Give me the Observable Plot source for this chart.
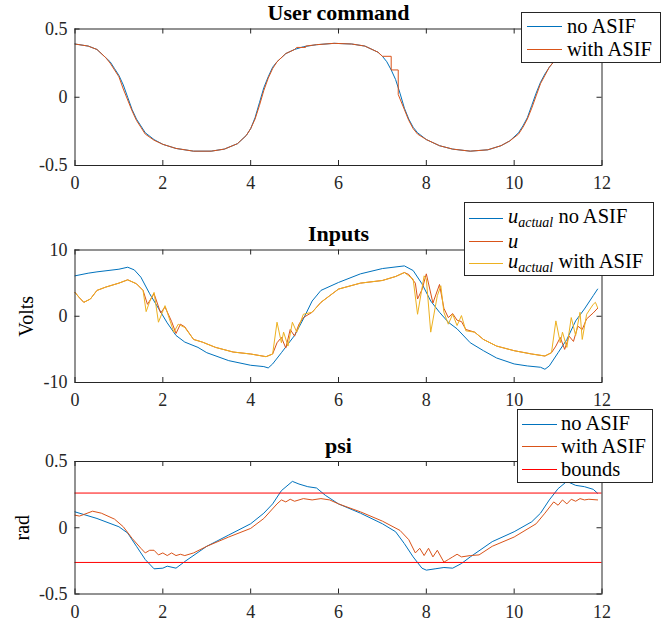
<!DOCTYPE html>
<html><head><meta charset="utf-8">
<script src="https://cdn.jsdelivr.net/npm/d3@7"></script>
<script src="https://cdn.jsdelivr.net/npm/@observablehq/plot@0.6"></script>
<style>
body{margin:0;background:#fff;}
#wrap{position:relative;width:667px;height:624px;background:#fff;overflow:hidden;font-family:"Liberation Serif","DejaVu Serif",serif;}
.legend{position:absolute;background:#fff;border:1px solid #262626;box-sizing:border-box;font-size:20.5px;color:#000;font-family:"Liberation Serif","DejaVu Serif",serif;}
.row{position:absolute;left:0;height:24px;display:flex;align-items:center;white-space:nowrap;}
.sw{display:block;}
sub{font-size:14px;vertical-align:-4px;}
</style>
</head><body>
<div id="wrap"></div>
<script>
// ---------- shared axis ticks ----------
const xTicks = [0, 2, 4, 6, 8, 10, 12];
const xTickLabels = ["0", "2", "4", "6", "8", "10", "12"];
const yTicksHalf = [-0.5, 0, 0.5];
const yTickLabelsHalf = ["-0.5", "0", "0.5"];
const yTicksVolts = [-10, 0, 10];
const yTickLabelsVolts = ["-10", "0", "10"];

// ---------- User command ----------
const cmdNoT = [0,0.3,0.5,0.7,0.8,0.9,1.0,1.1,1.2,1.3,1.4,1.5,1.6,1.8,2.0,2.3,2.7,3.1,3.4,3.7,3.9,4.0,4.1,4.2,4.3,4.4,4.5,4.6,4.8,5.0,5.2,5.5,5.9,6.3,6.6,6.9,7.0,7.1,7.2,7.3,7.4,7.5,7.6,7.7,7.8,8.0,8.3,8.6,9.0,9.4,9.7,9.9,10.1,10.2,10.3,10.4,10.5,10.6,10.7,10.8,10.9,11.0,11.2,11.5,11.9];
const cmdNoV = [0.39,0.375,0.35,0.29,0.26,0.21,0.16,0.09,0.0,-0.09,-0.16,-0.21,-0.26,-0.31,-0.345,-0.375,-0.395,-0.395,-0.38,-0.34,-0.28,-0.23,-0.15,-0.04,0.07,0.15,0.22,0.26,0.32,0.35,0.37,0.385,0.395,0.39,0.375,0.33,0.3,0.26,0.2,0.13,0.03,-0.08,-0.16,-0.22,-0.26,-0.31,-0.355,-0.38,-0.395,-0.385,-0.355,-0.32,-0.26,-0.21,-0.15,-0.06,0.03,0.11,0.17,0.22,0.26,0.29,0.33,0.37,0.39];
const cmdAsifT = [0,0.3,0.5,0.7,0.8,0.9,1.0,1.1,1.2,1.3,1.4,1.5,1.6,1.8,2.0,2.3,2.7,3.1,3.4,3.7,3.9,4.0,4.1,4.2,4.3,4.4,4.5,4.6,4.8,5.0,5.05,5.25,5.25,5.5,5.9,6.3,6.6,6.9,7.0,7.2,7.2,7.36,7.36,7.5,7.6,7.7,7.8,8.0,8.3,8.6,9.0,9.4,9.7,9.9,10.1,10.2,10.3,10.4,10.5,10.6,10.7,10.8,10.9,11.0,11.2,11.5,11.9];
const cmdAsifV = [0.39,0.375,0.35,0.29,0.25,0.2,0.15,0.06,-0.02,-0.1,-0.17,-0.22,-0.27,-0.315,-0.345,-0.375,-0.395,-0.395,-0.38,-0.34,-0.28,-0.23,-0.16,-0.06,0.05,0.14,0.21,0.26,0.32,0.35,0.365,0.365,0.375,0.385,0.395,0.39,0.375,0.33,0.3,0.3,0.2,0.2,0.02,-0.09,-0.17,-0.23,-0.27,-0.31,-0.355,-0.38,-0.395,-0.385,-0.355,-0.32,-0.27,-0.22,-0.16,-0.08,0.01,0.1,0.16,0.22,0.26,0.29,0.33,0.37,0.39];

// ---------- Inputs ----------
const uNoT = [0,0.3,0.5,1.0,1.2,1.35,1.5,1.7,1.9,2.1,2.3,2.5,2.8,3.0,3.5,4.0,4.3,4.4,4.5,4.7,5.0,5.2,5.4,5.6,6.0,6.5,7.0,7.5,7.7,7.9,8.1,8.3,8.5,8.7,9.0,9.3,9.6,10.0,10.3,10.6,10.7,10.8,11.0,11.2,11.4,11.6,11.8,11.9];
const uNoV = [6.1,6.5,6.7,7.1,7.4,7.0,5.9,3.4,1.2,-1.0,-2.9,-3.9,-4.7,-5.5,-6.7,-7.4,-7.6,-7.8,-7.2,-5.5,-2.9,-0.4,2.3,3.9,5.1,6.4,7.2,7.6,6.9,4.9,2.3,0.6,-0.9,-1.9,-4.0,-5.2,-6.3,-7.2,-7.5,-7.7,-8.0,-7.5,-5.5,-3.5,-0.7,1.1,3.1,4.1];
const uT = [0,0.1,0.2,0.35,0.5,0.7,1.0,1.2,1.4,1.55,1.65,1.8,1.95,2.05,2.2,2.3,2.4,2.5,2.7,2.9,3.2,3.6,4.0,4.35,4.5,4.6,4.7,4.8,4.9,5.0,5.1,5.2,5.4,5.6,5.8,6.0,6.5,7.0,7.3,7.5,7.6,7.75,7.8,7.9,8.0,8.15,8.3,8.4,8.5,8.6,8.7,8.8,8.9,9.1,9.3,9.6,10.0,10.4,10.7,10.85,10.95,11.05,11.15,11.25,11.35,11.45,11.55,11.65,11.8,11.9];
const uV = [3.6,2.8,2.1,2.6,3.9,4.4,5.0,5.5,4.9,3.9,1.8,3.4,0.5,1.4,-0.8,-2.6,-1.2,-1.6,-3.5,-3.9,-4.7,-5.4,-5.7,-6.1,-5.7,-4.0,-3.2,-4.8,-2.0,-3.0,-1.2,-0.2,0.6,2.1,3.1,4.1,5.0,5.4,6.0,6.6,6.3,5.0,2.6,4.0,6.4,2.0,4.8,1.2,-0.2,0.4,-0.6,-0.8,-2.0,-2.4,-3.5,-4.5,-5.2,-5.7,-6.0,-5.5,-4.5,-3.2,-5.0,-3.0,-3.8,-1.5,-2.0,-0.4,0.5,1.2];
const uAsifT = [0,0.1,0.2,0.35,0.5,0.7,1.0,1.2,1.4,1.55,1.62,1.7,1.8,1.9,2.05,2.25,2.35,2.5,2.7,2.9,3.2,3.6,4.0,4.35,4.5,4.6,4.7,4.75,4.85,4.95,5.05,5.2,5.4,5.6,5.8,6.0,6.5,7.0,7.3,7.5,7.6,7.7,7.8,7.95,8.0,8.1,8.25,8.33,8.4,8.5,8.6,8.7,8.8,8.9,9.1,9.3,9.6,10.0,10.4,10.7,10.85,10.95,11.05,11.1,11.2,11.3,11.4,11.5,11.55,11.65,11.8,11.85,11.9];
const uAsifV = [3.6,2.8,2.1,2.6,3.9,4.4,5.0,5.5,4.9,3.9,0.7,2.2,3.6,-0.9,1.6,-2.4,-1.2,-1.7,-3.5,-3.9,-4.7,-5.4,-5.7,-6.1,-5.7,-0.9,-4.0,-2.4,-4.5,-0.9,-2.4,0.3,0.6,2.1,3.1,4.1,5.0,5.4,6.0,6.6,6.1,5.6,0.3,6.1,5.6,-2.4,3.1,4.6,0.6,-1.2,0.3,-1.4,0.1,-2.2,-2.4,-3.5,-4.5,-5.2,-5.7,-6.0,-5.5,-0.7,-4.0,-2.4,-4.7,-0.2,-2.9,0.6,-3.5,0.3,1.8,2.1,1.3];

// ---------- psi ----------
const psiNoT = [0,0.5,1.0,1.2,1.4,1.6,1.8,2.0,2.1,2.3,2.5,3.0,3.5,4.0,4.3,4.5,4.7,4.95,5.1,5.3,5.5,5.7,6.0,6.5,7.0,7.3,7.5,7.7,7.9,8.0,8.2,8.4,8.6,8.8,9.0,9.5,10.0,10.4,10.6,10.8,11.0,11.2,11.4,11.6,11.8,11.9];
const psiNoV = [0.12,0.07,0.0075,-0.04,-0.14,-0.24,-0.31,-0.305,-0.29,-0.305,-0.255,-0.14,-0.055,0.03,0.11,0.18,0.28,0.35,0.33,0.31,0.30,0.245,0.18,0.11,0.03,-0.03,-0.12,-0.22,-0.305,-0.32,-0.31,-0.30,-0.305,-0.27,-0.22,-0.105,-0.03,0.045,0.11,0.21,0.295,0.35,0.32,0.31,0.29,0.26];
const psiAsifT = [0,0.1,0.2,0.4,0.6,0.9,1.1,1.3,1.5,1.6,1.7,1.8,1.9,2.0,2.1,2.2,2.3,2.4,2.5,2.7,3.0,3.5,4.0,4.3,4.6,4.7,4.8,4.9,5.0,5.2,5.4,5.6,5.8,6.0,6.5,7.0,7.4,7.6,7.75,7.85,7.95,8.05,8.15,8.25,8.4,8.5,8.6,8.7,8.8,9.0,9.2,9.5,10.0,10.5,10.7,10.9,11.0,11.1,11.2,11.3,11.4,11.5,11.6,11.7,11.9];
const psiAsifV = [0.095,0.088,0.1,0.125,0.11,0.065,0.0075,-0.08,-0.155,-0.19,-0.17,-0.17,-0.205,-0.19,-0.21,-0.19,-0.21,-0.2,-0.21,-0.19,-0.14,-0.07,-0.005,0.07,0.18,0.21,0.195,0.215,0.2,0.22,0.21,0.22,0.21,0.18,0.12,0.05,-0.02,-0.09,-0.19,-0.155,-0.21,-0.155,-0.22,-0.17,-0.26,-0.24,-0.22,-0.2,-0.22,-0.21,-0.205,-0.14,-0.07,0.03,0.11,0.195,0.17,0.21,0.18,0.215,0.2,0.22,0.21,0.215,0.21];
const psiBounds = [-0.2618, 0.2618];

// ---------- colours ----------
const cBlue = "#0072BD", cOrange = "#D95319", cYellow = "#EDB120", cRed = "#FF0000";
const FONT = "'Liberation Serif', 'DejaVu Serif', serif";
const AX = "#262626";
const W = 667, ML = 74.5, MR = 65.5, TICK = 5;

const zip = (t, v) => t.map((x, i) => ({t: x, v: v[i]}));

function panel({top, height, marginTop, marginBottom, yDomain, yTicks, yTickLabels, title, ylabel, ylabelDx, marks}) {
  const innerH = height - marginTop - marginBottom;
  const innerW = W - ML - MR;
  const svg = Plot.plot({
    width: W, height, marginLeft: ML, marginRight: MR, marginTop, marginBottom,
    style: {fontFamily: FONT, fontSize: "18px", color: AX, background: "transparent", overflow: "visible"},
    x: {domain: [0, 12]},
    y: {domain: yDomain},
    marks: [
      ...marks,
      Plot.frame({stroke: AX, strokeWidth: 1}),
      // inward tick marks on all four sides
      Plot.tickX(xTicks, {x: d => d, stroke: AX, insetTop: innerH - TICK}),
      Plot.tickX(xTicks, {x: d => d, stroke: AX, insetBottom: innerH - TICK}),
      Plot.tickY(yTicks, {y: d => d, stroke: AX, insetRight: innerW - TICK}),
      Plot.tickY(yTicks, {y: d => d, stroke: AX, insetLeft: innerW - TICK}),
      // tick labels
      Plot.axisX(xTicks, {anchor: "bottom", tickSize: 0, tickPadding: 11, tickFormat: d => xTickLabels[xTicks.indexOf(d)], label: null, fill: AX, fontFamily: FONT, fontSize: 18}),
      Plot.axisY(yTicks, {anchor: "left", tickSize: 0, tickPadding: 7.5, tickFormat: d => yTickLabels[yTicks.indexOf(d)], label: null, fill: AX, fontFamily: FONT, fontSize: 18}),
      Plot.text([title], {text: d => d, frameAnchor: "top", lineAnchor: "middle", dy: -16, fontWeight: "bold", fontSize: 22, fontFamily: FONT, fill: "#000"}),
      ...(ylabel ? [Plot.text([ylabel], {text: d => d, frameAnchor: "left", textAnchor: "middle", lineAnchor: "middle", dx: ylabelDx, rotate: -90, fontSize: 20, fontFamily: FONT, fill: "#000"})] : [])
    ]
  });
  svg.style.position = "absolute";
  svg.style.left = "0px";
  svg.style.top = top + "px";
  return svg;
}

const wrap = document.getElementById("wrap");

wrap.appendChild(panel({
  top: 0, height: 200, marginTop: 28.5, marginBottom: 35,
  yDomain: [-0.5, 0.5], yTicks: yTicksHalf, yTickLabels: yTickLabelsHalf,
  title: "User command",
  marks: [
    Plot.line(zip(cmdNoT, cmdNoV), {x: "t", y: "v", stroke: cBlue, strokeWidth: 1}),
    Plot.line(zip(cmdAsifT, cmdAsifV), {x: "t", y: "v", stroke: cOrange, strokeWidth: 1})
  ]
}));

wrap.appendChild(panel({
  top: 200, height: 215, marginTop: 49.5, marginBottom: 33,
  yDomain: [-10, 10], yTicks: yTicksVolts, yTickLabels: yTickLabelsVolts,
  title: "Inputs", ylabel: "Volts", ylabelDx: -48.5,
  marks: [
    Plot.line(zip(uNoT, uNoV), {x: "t", y: "v", stroke: cBlue, strokeWidth: 1}),
    Plot.line(zip(uT, uV), {x: "t", y: "v", stroke: cOrange, strokeWidth: 1}),
    Plot.line(zip(uAsifT, uAsifV), {x: "t", y: "v", stroke: cYellow, strokeWidth: 1})
  ]
}));

wrap.appendChild(panel({
  top: 415, height: 209, marginTop: 46, marginBottom: 30.5,
  yDomain: [-0.5, 0.5], yTicks: yTicksHalf, yTickLabels: yTickLabelsHalf,
  title: "psi", ylabel: "rad", ylabelDx: -52.5,
  marks: [
    Plot.line(zip(psiNoT, psiNoV), {x: "t", y: "v", stroke: cBlue, strokeWidth: 1}),
    Plot.line(zip(psiAsifT, psiAsifV), {x: "t", y: "v", stroke: cOrange, strokeWidth: 1}),
    Plot.ruleY(psiBounds, {stroke: cRed, strokeWidth: 1})
  ]
}));

// ---------- legends (HTML overlays) ----------
function legend({left, top, width, height, lineX0, lineX1, textX, rows}) {
  const box = document.createElement("div");
  box.className = "legend";
  Object.assign(box.style, {left: left + "px", top: top + "px", width: width + "px", height: height + "px"});
  rows.forEach(r => {
    const row = document.createElement("div");
    row.className = "row";
    row.style.top = (r.y - 12) + "px";
    const ns = "http://www.w3.org/2000/svg";
    const sw = document.createElementNS(ns, "svg");
    sw.setAttribute("width", lineX1);
    sw.setAttribute("height", 24);
    sw.setAttribute("class", "sw");
    const ln = document.createElementNS(ns, "line");
    ln.setAttribute("x1", lineX0); ln.setAttribute("x2", lineX1);
    ln.setAttribute("y1", 12.5); ln.setAttribute("y2", 12.5);
    ln.setAttribute("stroke", r.color); ln.setAttribute("stroke-width", 1.2);
    sw.appendChild(ln);
    const tx = document.createElement("span");
    tx.style.marginLeft = (textX - lineX1) + "px";
    tx.innerHTML = r.html;
    row.appendChild(sw); row.appendChild(tx);
    box.appendChild(row);
  });
  wrap.appendChild(box);
}

const uAct = "<i>u</i><sub><i>actual</i></sub>";
legend({left: 521, top: 12, width: 140, height: 51, lineX0: 5, lineX1: 40, textX: 45,
  rows: [{y: 13, color: cBlue, html: "no ASIF"}, {y: 36, color: cOrange, html: "with ASIF"}]});
legend({left: 464, top: 202, width: 190, height: 74, lineX0: 4, lineX1: 38, textX: 43,
  rows: [{y: 14.5, color: cBlue, html: uAct + " no ASIF"}, {y: 38, color: cOrange, html: "<i>u</i>"}, {y: 59.5, color: cYellow, html: uAct + " with ASIF"}]});
legend({left: 517, top: 409, width: 136, height: 74, lineX0: 4, lineX1: 39, textX: 43,
  rows: [{y: 13.5, color: cBlue, html: "no ASIF"}, {y: 36, color: cOrange, html: "with ASIF"}, {y: 59, color: cRed, html: "bounds"}]});
</script>
</body></html>
